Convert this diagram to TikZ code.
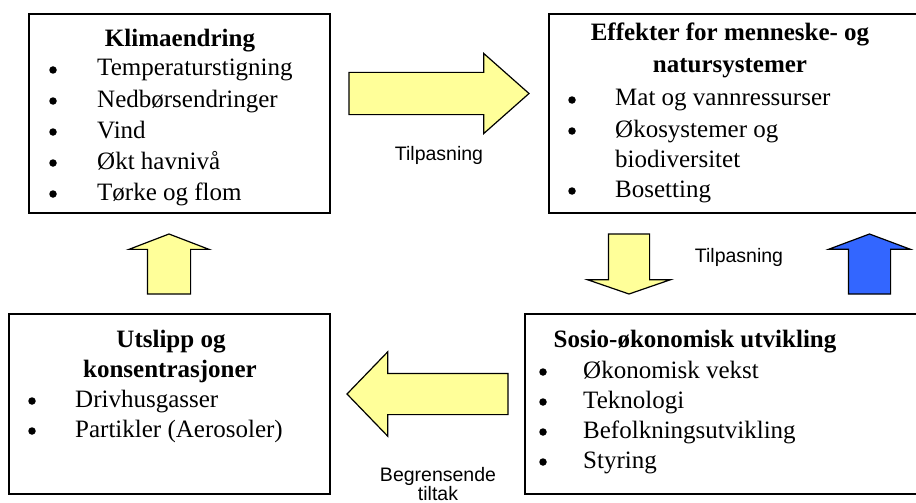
\documentclass[tikz,border=0pt]{standalone}
\usepackage{fontspec}
\setmainfont{Liberation Serif}
\setsansfont{Liberation Sans}
\usetikzlibrary{shapes.arrows}
\definecolor{paleyellow}{RGB}{255,255,153}
\definecolor{brightblue}{RGB}{51,102,255}
\tikzset{
  box/.style={draw, line width=1.5pt, inner sep=0pt, outer sep=0pt, anchor=north west},
  ttl/.style={font=\fontsize{25}{30}\selectfont\bfseries, anchor=base, inner sep=0pt},
  itm/.style={font=\fontsize{25}{30}\selectfont, anchor=base west, inner sep=0pt},
  blt/.style={circle, fill, inner sep=0pt, minimum size=7.5pt},
  lbl/.style={font=\sffamily\fontsize{19.5}{23}\selectfont, anchor=base, inner sep=0pt},
  fatarrow/.style={single arrow, draw, line width=1.2pt, fill=paleyellow, outer sep=0pt, anchor=tail},
}

\begin{document}
\begin{tikzpicture}[x=1pt, y=-1pt]
\useasboundingbox (0,0) rectangle (916,503);
% the four boxes
\node[box, minimum width=301pt, minimum height=199pt] (klima) at (29,14) {};
\node[box, minimum width=371pt, minimum height=199pt] (effekt) at (549,14) {};
\node[box, minimum width=321pt, minimum height=180pt] (utslipp) at (9,314) {};
\node[box, minimum width=395pt, minimum height=180pt] (sosio) at (525,314) {};

% Klimaendring
\node[ttl] (klimat) at (180,47) {Klimaendring};
\foreach \t [count=\i] in {Temperaturstigning, Nedbørsendringer, Vind, Økt havnivå, Tørke og flom} {
  \node[blt] (klimab\i) at (53,39+31*\i) {};
  \node[itm] (klimai\i) at (97,45+31*\i) {\t};
}

% Effekter
\node[ttl] (effektt1) at (730,41) {Effekter for menneske- og};
\node[ttl] (effektt2) at (730,73) {natursystemer};
\node[blt] (effektb1) at (572,100) {};
\node[itm] (effekti1) at (615,106) {Mat og vannressurser};
\node[blt] (effektb2) at (572,131) {};
\node[itm] (effekti2) at (615,137) {Økosystemer og};
\node[itm] (effekti3) at (615,167) {biodiversitet};
\node[blt] (effektb3) at (572,191) {};
\node[itm] (effekti4) at (615,197) {Bosetting};

% Utslipp
\node[ttl] (utslippt1) at (171,347) {Utslipp og};
\node[ttl] (utslippt2) at (170,377) {konsentrasjoner};
\node[blt] (utslippb1) at (32,401) {};
\node[itm] (utslippi1) at (75,407) {Drivhusgasser};
\node[blt] (utslippb2) at (32,431) {};
\node[itm] (utslippi2) at (75,437) {Partikler (Aerosoler)};

% Sosio-okonomisk
\node[ttl] (sosiot) at (695,347) {Sosio-økonomisk utvikling};
\foreach \t [count=\i] in {Økonomisk vekst, Teknologi, Befolkningsutvikling, Styring} {
  \node[blt] (sosiob\i) at (543,342+30*\i) {};
  \node[itm] (sosioi\i) at (583,348+30*\i) {\t};
}

% fat arrows
\node[fatarrow, inner sep=20.5pt, minimum height=180pt, minimum width=79pt,
  single arrow head extend=19pt, single arrow tip angle=83] (pil1) at (349,93.5) {};
\node[fatarrow, inner sep=20pt, minimum height=60pt, minimum width=82pt,
  single arrow head extend=21pt, single arrow tip angle=142, shape border rotate=270] (pil2) at (629,234) {};
\node[fatarrow, fill=brightblue, inner sep=20.5pt, minimum height=60pt, minimum width=80pt,
  single arrow head extend=19.5pt, single arrow tip angle=139, shape border rotate=90] (pil3) at (869.5,294) {};
\node[fatarrow, inner sep=20pt, minimum height=161pt, minimum width=83pt,
  single arrow head extend=21.5pt, single arrow tip angle=92, shape border rotate=180] (pil4) at (508,394) {};
\node[fatarrow, inner sep=21pt, minimum height=60pt, minimum width=79pt,
  single arrow head extend=18.5pt, single arrow tip angle=138, shape border rotate=90] (pil5) at (169,294) {};

% labels
\node[lbl] (tilp1) at (439,160) {Tilpasning};
\node[lbl] (tilp2) at (739,262) {Tilpasning};
\node[lbl] (begr1) at (438,481) {Begrensende};
\node[lbl] (begr2) at (438,500) {tiltak};
\end{tikzpicture}
\end{document}
